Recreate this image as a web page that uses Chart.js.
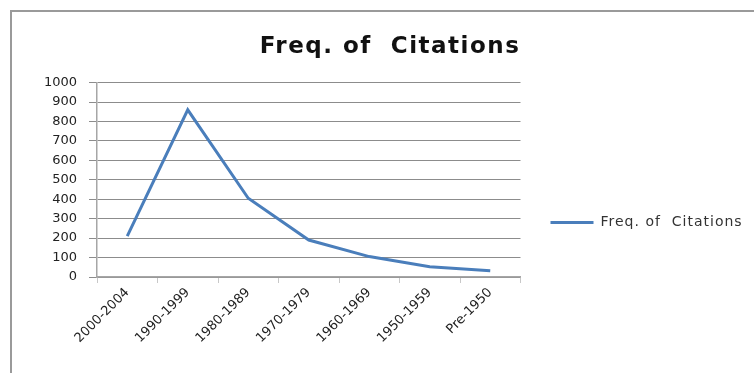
<!DOCTYPE html>
<html>
<head>
<meta charset="utf-8">
<script src="https://cdn.jsdelivr.net/npm/chart.js@4.4.1/dist/chart.umd.min.js"></script>
<style>
  html, body { margin: 0; padding: 0; background: #fff; }
  #wrap { position: relative; width: 754px; height: 373px; overflow: hidden; }
  #frame {
    position: absolute; left: 10px; top: 10px; width: 800px; height: 400px;
    border-top: 2px solid #9a9a9a; border-left: 2px solid #9a9a9a;
  }
  canvas { position: absolute; left: 0; top: 0; }
</style>
</head>
<body>
<div id="wrap">
  <div id="frame"></div>
  <canvas id="chart" width="754" height="373"></canvas>
</div>
<script>
const periods = ["2000-2004", "1990-1999", "1980-1989", "1970-1979", "1960-1969", "1950-1959", "Pre-1950"];
const citations = [210, 860, 405, 190, 105, 53, 32];
const seriesLabel = "Freq. of  Citations";
const chartTitle = "Freq. of  Citations";

const fontFamily = "'DejaVu Sans', 'Noto Sans', sans-serif";

// the original's lettering is wider than any installed font, add some tracking
function widen(box, spacing) {
  if (!box || box._widened) return;
  const draw = box.draw.bind(box);
  box.draw = (area) => {
    const ctx = box.ctx;
    const prev = ctx.letterSpacing;
    ctx.letterSpacing = spacing;
    draw(area);
    ctx.letterSpacing = prev;
  };
  box._widened = true;
}

// Excel places the legend lower than centre and the title a bit right of centre
const nudgeBoxes = {
  id: "nudgeBoxes",
  afterLayout(chart) {
    const lg = chart.legend;
    if (lg) {
      lg.top += 36;
      lg.bottom += 36;
      lg.left = chart.chartArea.right + 20;
      lg.right = chart.width;
    }
    const tb = chart.titleBlock;
    if (tb) {
      tb.left = 26;
      tb.right = chart.width;
    }
    widen(tb, "1.5px");
    widen(lg, "1px");
    widen(chart.scales.x, "1.5px");
    widen(chart.scales.y, "1.5px");
  },
};

new Chart(document.getElementById("chart").getContext("2d"), {
  type: "line",
  data: {
    labels: periods,
    datasets: [
      {
        label: seriesLabel,
        data: citations,
        borderColor: "#4a7ebb",
        backgroundColor: "#4a7ebb",
        borderWidth: 3,
        pointRadius: 0,
        tension: 0,
      },
    ],
  },
  options: {
    responsive: false,
    animation: false,
    layout: { padding: { left: 0, right: 60, top: 0, bottom: 0 } },
    plugins: {
      title: {
        display: true,
        text: chartTitle,
        color: "#111",
        font: { family: fontFamily, size: 23, weight: "bold" },
        padding: { top: 33, bottom: 22 },
      },
      legend: {
        position: "right",
        labels: {
          usePointStyle: true,
          pointStyle: "line",
          pointStyleWidth: 43,
          color: "#333",
          font: { family: fontFamily, size: 14 },
        },
      },
      tooltip: { enabled: false },
    },
    scales: {
      x: {
        offset: true,
        grid: {
          offset: true,
          drawOnChartArea: false,
          drawTicks: true,
          tickLength: 6,
          color: "#c8c8c8",
        },
        border: { color: "#a6a6a6", width: 1.5 },
        ticks: {
          color: "#222",
          font: { family: fontFamily, size: 13 },
          maxRotation: 45,
          minRotation: 45,
          padding: 2,
        },
        afterFit: (scale) => {
          scale.height = 96;
        },
      },
      y: {
        min: 0,
        max: 1000,
        grid: { color: "#8c8c8c", tickLength: 8, lineWidth: 1 },
        border: { color: "#a6a6a6", width: 1.5 },
        ticks: {
          stepSize: 100,
          color: "#222",
          padding: 12,
          font: { family: fontFamily, size: 13 },
          callback: (value) => String(value),
        },
        afterFit: (scale) => {
          scale.width = 97;
        },
      },
    },
  },
  plugins: [nudgeBoxes],
});
</script>
</body>
</html>
